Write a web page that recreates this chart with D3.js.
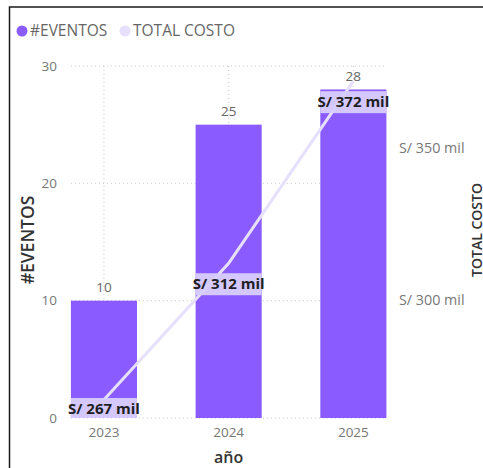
<!DOCTYPE html>
<html>
<head>
<meta charset="utf-8">
<script src="https://cdn.jsdelivr.net/npm/d3@7"></script>
<style>
  body { margin: 0; background: #fff; }
  svg { display: block; font-family: "Open Sans", "Noto Sans", sans-serif; }
  .grid line { stroke: #c8c8c8; stroke-width: 1; stroke-dasharray: 1,3; }
</style>
</head>
<body>
<svg id="chart" width="483" height="468"></svg>
<script>
  // data
  const years = ["2023", "2024", "2025"];
  const eventos = [10, 25, 28];
  const costo = [267, 312, 372];           // miles de soles
  const eventTicks = [0, 10, 20, 30];
  const costTicks = [300, 350];

  const purple = "#8a5cff";
  const lavender = "#e6e0fd";
  const labelBg = "#d8cefe";

  const svg = d3.select("#chart");

  // frame of the visual
  svg.append("path")
    .attr("d", "M9.5,468V7H483")
    .attr("fill", "none")
    .attr("stroke", "#1a1a1a")
    .attr("stroke-width", 1.5);

  const x = d3.scaleBand().domain(years).range([41.6, 415.7])
    .paddingInner(0.47).paddingOuter(0.235);
  const y = d3.scaleLinear().domain([0, 30]).range([418, 66]);
  const yR = d3.scaleLinear().domain([261, 377]).range([418, 66]);

  const gx0 = x(years[0]), gx1 = x(years[years.length - 1]) + x.bandwidth();

  // gridlines
  const grid = svg.append("g").attr("class", "grid");
  grid.selectAll(".h").data(eventTicks).join("line")
    .attr("x1", gx0).attr("x2", gx1)
    .attr("y1", d => y(d)).attr("y2", d => y(d));
  grid.selectAll(".v").data(years).join("line")
    .attr("x1", d => x(d) + x.bandwidth() / 2).attr("x2", d => x(d) + x.bandwidth() / 2)
    .attr("y1", y(30)).attr("y2", y(0));

  // left axis
  const yAxis = svg.append("g")
    .attr("transform", "translate(59,0)")
    .call(d3.axisLeft(y).tickValues(eventTicks).tickSize(0).tickPadding(2));
  yAxis.select(".domain").remove();
  yAxis.selectAll("text").attr("fill", "#777").attr("font-size", 13.5)
    .attr("font-family", "\"Open Sans\", sans-serif");

  // right axis
  const yrAxis = svg.append("g")
    .attr("transform", "translate(399,0)")
    .call(d3.axisRight(yR).tickValues(costTicks).tickSize(0).tickPadding(0)
      .tickFormat(d => "S/ " + d + " mil"));
  yrAxis.select(".domain").remove();
  yrAxis.selectAll("text").attr("fill", "#777").attr("font-size", 14.3)
    .attr("font-family", "\"Open Sans\", sans-serif");

  // bottom axis
  const xAxis = svg.append("g")
    .attr("transform", "translate(0,418)")
    .call(d3.axisBottom(x).tickSize(0).tickPadding(9));
  xAxis.select(".domain").remove();
  xAxis.selectAll("text").attr("fill", "#777").attr("font-size", 13.5)
    .attr("font-family", "\"Open Sans\", sans-serif");

  // bars
  svg.append("g").selectAll("rect").data(years).join("rect")
    .attr("x", d => x(d))
    .attr("width", x.bandwidth())
    .attr("y", (d, i) => y(eventos[i]))
    .attr("height", (d, i) => y(0) - y(eventos[i]))
    .attr("fill", purple);

  // bar value labels
  svg.append("g").selectAll("text").data(years).join("text")
    .attr("x", d => x(d) + x.bandwidth() / 2)
    .attr("y", (d, i) => y(eventos[i]) - 13)
    .attr("text-anchor", "middle")
    .attr("dy", "0.35em")
    .attr("font-size", 13.5)
    .attr("fill", "#666")
    .text((d, i) => eventos[i]);

  // cost line
  const line = d3.line()
    .x(d => x(d) + x.bandwidth() / 2)
    .y((d, i) => yR(costo[years.indexOf(d)]));
  svg.append("path")
    .datum(years)
    .attr("d", line)
    .attr("fill", "none")
    .attr("stroke", lavender)
    .attr("stroke-width", 3);

  // cost labels with background band
  const labelY = i => Math.min(yR(costo[i]) + 21, y(0) - 9);
  const lab = svg.append("g").selectAll("g").data(years).join("g");
  lab.append("rect")
    .attr("x", d => x(d))
    .attr("width", x.bandwidth())
    .attr("y", (d, i) => labelY(i) - 11)
    .attr("height", (d, i) => Math.min(22, y(0) - (labelY(i) - 11)))
    .attr("fill", labelBg)
    .attr("opacity", 0.95);
  lab.append("text")
    .attr("x", d => x(d) + x.bandwidth() / 2)
    .attr("y", (d, i) => labelY(i))
    .attr("dy", "0.35em")
    .attr("text-anchor", "middle")
    .attr("font-size", 15)
    .attr("font-weight", "bold")
    .attr("fill", "#1f1f1f")
    .text((d, i) => "S/ " + costo[i] + " mil");

  // axis titles
  svg.append("text")
    .attr("transform", "translate(34,240) rotate(-90)")
    .attr("text-anchor", "middle")
    .attr("font-size", 17.5)
    .attr("font-weight", 600)
    .attr("fill", "#333")
    .text("#EVENTOS");
  svg.append("text")
    .attr("transform", "translate(482,230) rotate(-90)")
    .attr("text-anchor", "middle")
    .attr("font-size", 14)
    .attr("font-weight", 600)
    .attr("fill", "#333")
    .text("TOTAL COSTO");
  svg.append("text")
    .attr("x", x("2024") + x.bandwidth() / 2)
    .attr("y", 463)
    .attr("text-anchor", "middle")
    .attr("font-size", 16)
    .attr("font-weight", 600)
    .attr("fill", "#333")
    .text("año");

  // legend
  const legendItems = [
    { name: "#EVENTOS", color: purple, x: 22 },
    { name: "TOTAL COSTO", color: lavender, x: 125 }
  ];
  const lg = svg.append("g").selectAll("g").data(legendItems).join("g")
    .attr("transform", d => `translate(${d.x},31)`);
  lg.append("circle").attr("r", 5.5).attr("fill", d => d.color);
  lg.append("text")
    .attr("x", 8)
    .attr("dy", "0.35em")
    .attr("font-size", 15.5)
    .attr("fill", "#666")
    .text(d => d.name);
</script>
</body>
</html>
